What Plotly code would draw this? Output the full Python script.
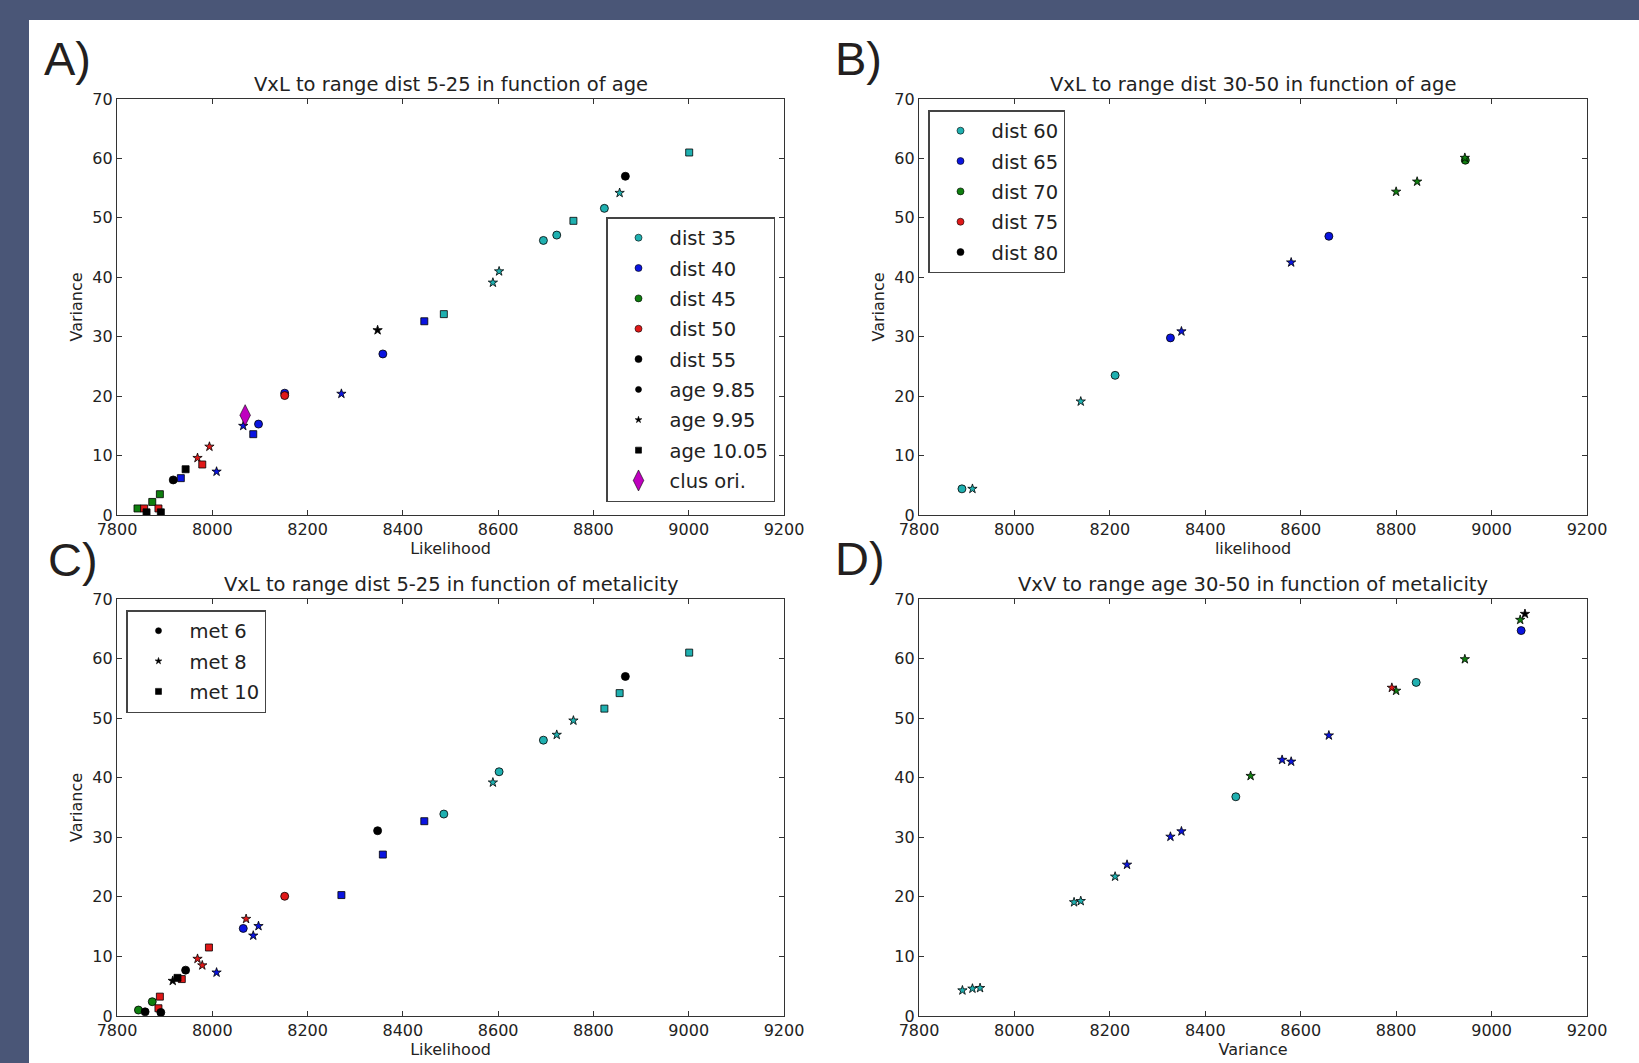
import plotly.graph_objects as go

W, H = 1639, 1063

# ---- A) VxL, dist 5-25, colour = distance, symbol = age
a_lik = [9001, 8867, 8855, 8823, 8758, 8723, 8695, 8602, 8589, 8486, 8445, 8347, 8358,
         8271, 8152, 8152, 8097, 8086, 8065, 8009, 7994, 7979, 7969, 7944, 7934, 7918,
         7890, 7874, 7887, 7892, 7843, 7857, 7862]
a_var = [61.0, 57.0, 54.2, 51.6, 49.5, 47.1, 46.2, 41.0, 39.1, 33.8, 32.6, 31.1, 27.1,
         20.4, 20.5, 20.1, 15.3, 13.6, 15.0, 7.3, 11.5, 8.5, 9.6, 7.7, 6.2, 5.9,
         3.5, 2.2, 1.1, 0.45, 1.1, 1.1, 0.45]
a_dist = [35, 55, 35, 35, 35, 35, 35, 35, 35, 35, 40, 55, 40,
          40, 40, 50, 40, 40, 40, 40, 50, 50, 50, 55, 40, 55,
          45, 45, 50, 55, 45, 50, 55]
a_age = [10.05, 9.85, 9.95, 9.85, 10.05, 9.85, 9.85, 9.95, 9.95, 10.05, 10.05, 9.95, 9.85,
         9.95, 9.85, 9.85, 9.85, 10.05, 9.95, 9.95, 9.95, 10.05, 9.95, 10.05, 10.05, 9.85,
         10.05, 10.05, 10.05, 10.05, 10.05, 10.05, 10.05]
clus_lik = [8069]
clus_var = [16.8]

# ---- B) VxL, dist 30-50, colour = distance, symbol = age
b_lik = [7890, 7912, 8139, 8211, 8327, 8350, 8580, 8659, 8800, 8844, 8944, 8945]
b_var = [4.4, 4.4, 19.1, 23.5, 29.8, 30.9, 42.5, 46.9, 54.4, 56.1, 60.1, 59.7]
b_dist = [60, 60, 60, 60, 65, 65, 65, 65, 70, 70, 70, 70]
b_age = [9.85, 9.95, 9.95, 9.85, 9.85, 9.95, 9.95, 9.85, 9.95, 9.95, 9.95, 9.85]

# ---- C) VxL, dist 5-25, colour = distance, symbol = metalicity
c_lik = [9001, 8867, 8855, 8823, 8758, 8723, 8695, 8602, 8589, 8486, 8445, 8347, 8358,
         8271, 8152, 8097, 8086, 8071, 8065, 8009, 7993, 7979, 7969, 7944, 7936, 7927,
         7917, 7890, 7874, 7887, 7892, 7845, 7859]
c_var = [61.0, 57.0, 54.2, 51.6, 49.6, 47.2, 46.3, 41.0, 39.2, 33.9, 32.7, 31.1, 27.1,
         20.3, 20.1, 15.1, 13.5, 16.3, 14.7, 7.3, 11.5, 8.5, 9.6, 7.7, 6.2, 6.4,
         5.9, 3.25, 2.4, 1.3, 0.6, 1.0, 0.7]
c_dist = [35, 55, 35, 35, 35, 35, 35, 35, 35, 35, 40, 55, 40,
          40, 50, 40, 40, 50, 40, 40, 50, 50, 50, 55, 50, 55,
          55, 50, 45, 50, 55, 45, 55]
c_met = [10, 6, 10, 10, 8, 8, 6, 6, 8, 6, 10, 6, 10,
         10, 6, 8, 8, 8, 6, 8, 10, 8, 8, 6, 10, 10,
         8, 10, 6, 10, 6, 6, 6]

# ---- D) VxV, age 30-50, colour = distance, symbol = metalicity
d_var_x = [7891, 7912, 7928, 8125, 8139, 8211, 8236, 8327, 8350, 8464, 8495, 8561,
           8580, 8659, 8791, 8800, 8842, 8944, 9062, 9060, 9070]
d_var_y = [4.3, 4.6, 4.7, 19.1, 19.3, 23.4, 25.4, 30.1, 31.0, 36.8, 40.3, 43.0,
           42.7, 47.1, 55.1, 54.6, 56.0, 59.9, 64.7, 66.5, 67.5]
d_dist = [60, 60, 60, 60, 60, 60, 65, 65, 65, 60, 70, 65,
          65, 65, 75, 70, 60, 70, 65, 70, 80]
d_met = [8, 8, 8, 8, 8, 8, 8, 8, 8, 6, 8, 8,
         8, 8, 8, 8, 6, 8, 6, 8, 8]

a_dist_labels = [35, 40, 45, 50, 55]
b_dist_labels = [60, 65, 70, 75, 80]
age_labels = [9.85, 9.95, 10.05]
met_labels = [6, 8, 10]

# matplotlib "classic" c, b, g, r, k
COLORS = ["#1fb0b0", "#0a14e0", "#0f7f0f", "#e01818", "#000000"]
MAGENTA = "#bf00bf"
SYMBOLS = ["circle", "star", "square"]
SIZES = {"circle": 8, "star": 7, "square": 7}
FONT = "DejaVu Sans, Verdana, sans-serif"
TEXT = "#222222"

# plot areas in pixels: (left, right, top, bottom)
PANELS = {
    1: (117, 784, 99, 515),
    2: (919, 1587, 99, 515),
    3: (117, 784, 599, 1016),
    4: (919, 1587, 599, 1016),
}


def px_x(x):
    return x / W


def px_y(y):
    return 1 - y / H


fig = go.Figure()


def add_points(n, xs, ys, groups, group_labels, kinds, kind_labels):
    for gi, g in enumerate(group_labels):
        for ki, k in enumerate(kind_labels):
            idx = [i for i in range(len(xs)) if groups[i] == g and kinds[i] == k]
            if not idx:
                continue
            sym = SYMBOLS[ki]
            fig.add_trace(go.Scatter(
                x=[xs[i] for i in idx], y=[ys[i] for i in idx],
                mode="markers", xaxis=f"x{n}", yaxis=f"y{n}", showlegend=False,
                marker=dict(color=COLORS[gi], symbol=sym, size=SIZES[sym],
                            line=dict(color="#000000", width=0.8)),
            ))


def add_legend_entry(legend, name, color, symbol, size):
    fig.add_trace(go.Scatter(
        x=[None], y=[None], mode="markers", name=name, legend=legend,
        legendgroup=f"{legend}-{name}", xaxis="x1", yaxis="y1",
        marker=dict(color=color, symbol=symbol, size=size,
                    line=dict(color="#000000", width=0.6)),
    ))


add_points(1, a_lik, a_var, a_dist, a_dist_labels, a_age, age_labels)
fig.add_trace(go.Scatter(
    x=clus_lik, y=clus_var, mode="markers", xaxis="x1", yaxis="y1", showlegend=False,
    marker=dict(color=MAGENTA, symbol="diamond-tall", size=15,
                line=dict(color="#000000", width=0.6)),
))
add_points(2, b_lik, b_var, b_dist, b_dist_labels, b_age, age_labels)
add_points(3, c_lik, c_var, c_dist, a_dist_labels, c_met, met_labels)
add_points(4, d_var_x, d_var_y, d_dist, b_dist_labels, d_met, met_labels)

# legends
for i, d in enumerate(a_dist_labels):
    add_legend_entry("legend", f"dist {d}", COLORS[i], "circle", 7)
for i, a in enumerate(age_labels):
    add_legend_entry("legend", f"age {a}", "#000000", SYMBOLS[i], 6 if i != 1 else 5)
add_legend_entry("legend", "clus ori.", MAGENTA, "diamond-tall", 15)
for i, d in enumerate(b_dist_labels):
    add_legend_entry("legend2", f"dist {d}", COLORS[i], "circle", 7)
for i, m in enumerate(met_labels):
    add_legend_entry("legend3", f"met {m}", "#000000", SYMBOLS[i], 6 if i != 1 else 5)

titles = {
    1: "VxL to range dist 5-25 in function of age",
    2: "VxL to range dist 30-50 in function of age",
    3: "VxL to range dist 5-25 in function of metalicity",
    4: "VxV to range age 30-50 in function of metalicity",
}
xlabels = {1: "Likelihood", 2: "likelihood", 3: "Likelihood", 4: "Variance"}
ylabels = {1: "Variance", 2: "Variance", 3: "Variance", 4: ""}

axis_common = dict(
    showline=True, linecolor="#333333", linewidth=1.3, mirror="ticks",
    ticks="inside", ticklen=5, tickcolor="#333333", showgrid=False, zeroline=False,
    automargin=False, tickfont=dict(family=FONT, size=16, color=TEXT),
)

layout = dict(
    width=W, height=H, autosize=False,
    margin=dict(l=0, r=0, t=0, b=0, pad=0, autoexpand=False),
    paper_bgcolor="white", plot_bgcolor="white",
    font=dict(family=FONT, color=TEXT),
    annotations=[], shapes=[],
)

for n, (l, r, t, b) in PANELS.items():
    layout[f"xaxis{n}"] = dict(
        axis_common, domain=[px_x(l), px_x(r)], anchor=f"y{n}",
        range=[7800, 9200], tick0=7800, dtick=200,
        title=dict(text=xlabels[n], standoff=3, font=dict(family=FONT, size=16, color=TEXT)),
    )
    layout[f"yaxis{n}"] = dict(
        axis_common, domain=[px_y(b), px_y(t)], anchor=f"x{n}",
        range=[0, 70], tick0=0, dtick=10,
        title=dict(text=ylabels[n], standoff=5, font=dict(family=FONT, size=16, color=TEXT)),
    )
    layout["annotations"].append(dict(
        text=titles[n], x=px_x((l + r) / 2), y=px_y(t - 1), xref="paper", yref="paper",
        xanchor="center", yanchor="bottom", showarrow=False,
        font=dict(family=FONT, size=19.5, color=TEXT),
    ))

panel_tags = [("A)", 42, 59), ("B)", 833, 58), ("C)", 46, 559), ("D)", 833, 558)]
for tag, x, y in panel_tags:
    layout["annotations"].append(dict(
        text=tag, x=px_x(x), y=px_y(y), xref="paper", yref="paper",
        xanchor="left", yanchor="middle", showarrow=False,
        font=dict(family="Liberation Sans, Arial, sans-serif", size=47, color="#231f20"),
    ))

# dark slide frame along top and left edges
FRAME = "#4a5677"
layout["shapes"] += [
    dict(type="rect", xref="paper", yref="paper", x0=0, x1=1, y0=px_y(20), y1=1,
         fillcolor=FRAME, line=dict(width=0), layer="below"),
    dict(type="rect", xref="paper", yref="paper", x0=0, x1=px_x(29), y0=0, y1=1,
         fillcolor=FRAME, line=dict(width=0), layer="below"),
]

legend_common = dict(
    bgcolor="white", bordercolor="#444444", borderwidth=1.5,
    font=dict(family=FONT, size=19.5, color=TEXT), tracegroupgap=2, itemwidth=52,
    xanchor="left", yanchor="top", itemsizing="trace",
)
layout["legend"] = dict(legend_common, x=px_x(606), y=px_y(217))
layout["legend2"] = dict(legend_common, x=px_x(928), y=px_y(110))
layout["legend3"] = dict(legend_common, x=px_x(126), y=px_y(610))

fig.update_layout(**layout)
fig.write_html(
    "out.html",
    config={"displayModeBar": False},
    post_script="document.body.style.margin='0px';document.body.style.overflow='hidden';",
)
